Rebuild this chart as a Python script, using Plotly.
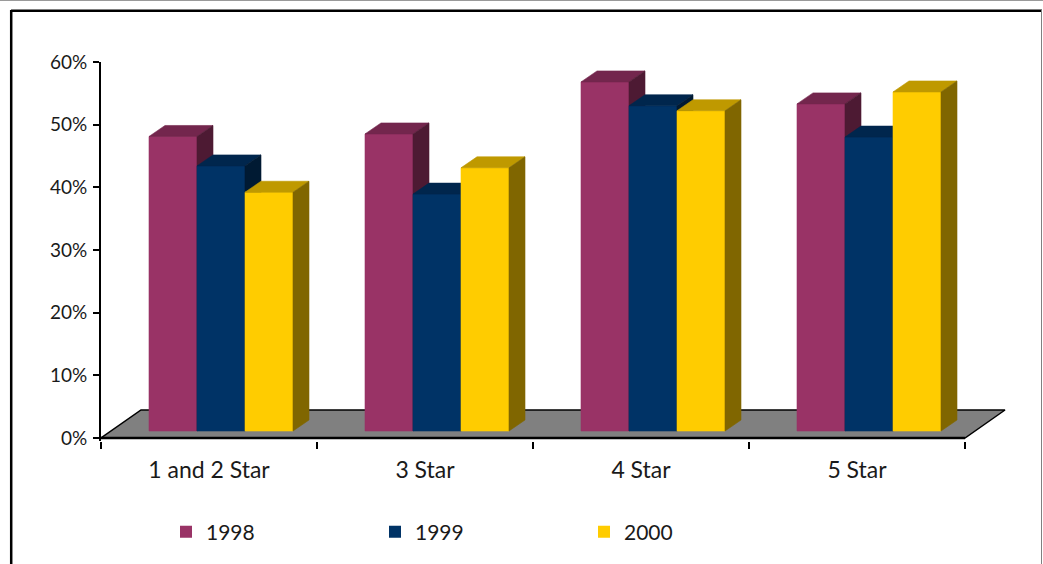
import plotly.graph_objects as go

# Hotel categories and occupancy shares (%) per year
categories = ["1 and 2 Star", "3 Star", "4 Star", "5 Star"]
years = ["1998", "1999", "2000"]
share_1998 = [47.0, 47.4, 55.7, 52.2]
share_1999 = [42.3, 37.8, 51.9, 46.9]
share_2000 = [38.1, 42.0, 51.1, 54.1]
y_ticks = [0, 10, 20, 30, 40, 50, 60]

series = [share_1998, share_1999, share_2000]
front_colors = ["#993366", "#003366", "#FFCC00"]
top_colors = ["#73264D", "#00264D", "#BF9900"]
side_colors = ["#4D1A33", "#001A33", "#806600"]

# Layout of the plotting area (pixels)
W, H = 1043, 564
M_L, M_R, M_T, M_B = 101, 33, 62, 123
PLOT_W = W - M_L - M_R
PLOT_H = H - M_T - M_B
PX_PER_CAT = 216.0
PX_PER_PCT = 376.0 / 60.0
X_MAX = -0.5 + PLOT_W / PX_PER_CAT
Y_MIN = 60.0 - PLOT_H / PX_PER_PCT

# Oblique 3-D projection, expressed in data units
FLOOR_DX = 40 / PX_PER_CAT
FLOOR_DY = 28 / PX_PER_PCT
BAR_BASE = 7 / PX_PER_PCT
BAR_W = 48 / PX_PER_CAT
BAR_START = -0.5 + 48 / PX_PER_CAT
DEPTH_DX = 16 / PX_PER_CAT
DEPTH_DY = 11 / PX_PER_PCT

FONT = "Lato, 'Open Sans', sans-serif"
TXT = "#1a1a1a"

fig = go.Figure()
cat_x = list(range(len(categories)))

# Flat bars carry the legend entries; the shaded boxes are painted over them
for i, (name, vals) in enumerate(zip(years, series)):
    fig.add_trace(go.Bar(
        x=cat_x, y=vals, base=BAR_BASE, width=BAR_W,
        offset=BAR_START + i * BAR_W, name=name,
        marker=dict(color=front_colors[i], line=dict(width=0)),
        hoverinfo="skip",
    ))

# Grey floor of the 3-D chart
fx0, fx1 = -0.5, len(categories) - 0.5
fig.add_trace(go.Scatter(
    x=[fx0, fx1, fx1 + FLOOR_DX, fx0 + FLOOR_DX, fx0],
    y=[0, 0, FLOOR_DY, FLOOR_DY, 0],
    mode="lines", fill="toself", fillcolor="#808080",
    line=dict(color="black", width=1.5), showlegend=False, hoverinfo="skip",
))
fig.add_trace(go.Scatter(
    x=[fx0, fx1], y=[0, 0], mode="lines",
    line=dict(color="black", width=2.5), showlegend=False, hoverinfo="skip",
))


def faces(i, vals):
    fx, fy, tx, ty, sx, sy = [], [], [], [], [], []
    for j, v in enumerate(vals):
        xl = j + BAR_START + i * BAR_W
        xr = xl + BAR_W
        y0 = BAR_BASE
        y1 = BAR_BASE + v
        fx += [xl, xr, xr, xl, xl, None]
        fy += [y0, y0, y1, y1, y0, None]
        tx += [xl, xr, xr + DEPTH_DX, xl + DEPTH_DX, xl, None]
        ty += [y1, y1, y1 + DEPTH_DY, y1 + DEPTH_DY, y1, None]
        sx += [xr, xr + DEPTH_DX, xr + DEPTH_DX, xr, xr, None]
        sy += [y0, y0 + DEPTH_DY, y1 + DEPTH_DY, y1, y0, None]
    return (fx, fy), (tx, ty), (sx, sy)


# Paint boxes from left to right so nearer faces cover farther ones
for i, vals in enumerate(series):
    front, top, side = faces(i, vals)
    for (xs, ys), col in ((front, front_colors[i]), (top, top_colors[i]), (side, side_colors[i])):
        fig.add_trace(go.Scatter(
            x=xs, y=ys, mode="lines", fill="toself", fillcolor=col,
            line=dict(color=col, width=0.6), showlegend=False, hoverinfo="skip",
        ))


def px_x(px):
    return (px - M_L) / PLOT_W


def px_y(py):
    return (M_T + PLOT_H - py) / PLOT_H


# Frame around the chart
fig.add_shape(type="line", xref="paper", yref="paper",
              x0=px_x(11), x1=px_x(1042), y0=px_y(10.8), y1=px_y(10.8),
              line=dict(color="black", width=2.5))
fig.add_shape(type="line", xref="paper", yref="paper",
              x0=px_x(11.2), x1=px_x(11.2), y0=px_y(10), y1=px_y(575),
              line=dict(color="black", width=2.5))
fig.add_shape(type="line", xref="paper", yref="paper",
              x0=px_x(1041.5), x1=px_x(1041.5), y0=px_y(10), y1=px_y(575),
              line=dict(color="#808080", width=1))
fig.add_shape(type="line", xref="paper", yref="paper",
              x0=px_x(0), x1=px_x(1043), y0=px_y(0.5), y1=px_y(0.5),
              line=dict(color="#9a9a9a", width=1))

fig.update_layout(
    width=W, height=H,
    margin=dict(l=M_L, r=M_R, t=M_T, b=M_B, pad=0),
    paper_bgcolor="white", plot_bgcolor="white",
    barmode="overlay",
    font=dict(family=FONT, color=TXT),
    showlegend=True,
    legend=dict(
        orientation="h", x=px_x(166), y=px_y(532),
        xanchor="left", yanchor="middle",
        entrywidth=164, entrywidthmode="pixels",
        font=dict(family=FONT, size=21, color=TXT),
        bgcolor="rgba(0,0,0,0)", itemclick=False, itemdoubleclick=False,
    ),
    xaxis=dict(
        range=[-0.5, X_MAX], tickvals=cat_x, ticktext=categories,
        ticks="", showline=False, showgrid=False, zeroline=False,
        tickfont=dict(size=23, family=FONT, color=TXT),
        ticklabelstandoff=13,
        minor=dict(tickvals=[-0.5, 0.5, 1.5, 2.5, 3.5], ticks="outside",
                   ticklen=7, tickwidth=1.5, tickcolor="black", showgrid=False),
    ),
    yaxis=dict(
        range=[Y_MIN, 60], tickvals=y_ticks,
        ticktext=[f"{t}%" for t in y_ticks],
        ticks="outside", ticklen=6, tickwidth=1.5, tickcolor="black",
        showline=True, linewidth=2, linecolor="black",
        showgrid=False, zeroline=False,
        ticklabelstandoff=2,
        tickfont=dict(size=19, family=FONT, color=TXT),
    ),
)

fig.write_html("out.html")
